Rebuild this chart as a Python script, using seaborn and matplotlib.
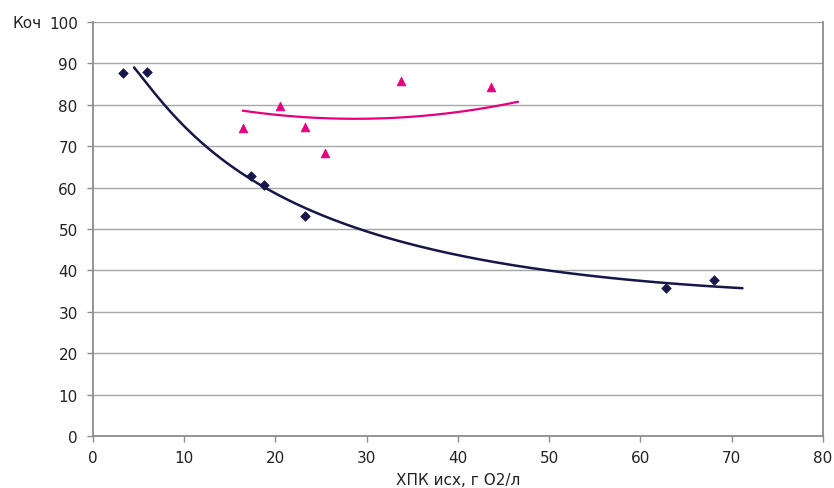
import numpy as np
import pandas as pd
import matplotlib
matplotlib.use("Agg")
import matplotlib.pyplot as plt
import seaborn as sns

x_dark = [3.3, 5.9, 17.3, 18.7, 23.2, 62.8, 68.1]
y_dark = [87.7, 87.9, 62.7, 60.7, 53.1, 35.7, 37.6]
x_pink = [16.4, 20.5, 23.2, 25.4, 33.8, 43.6]
y_pink = [74.4, 79.8, 74.7, 68.3, 85.6, 84.2]

# trend curves as drawn in the picture (read at a few places)
x_dark_trend = [4.5, 12.4, 18.5, 29.8, 35.8, 49.4, 59.2, 64.7, 71.2]
y_dark_trend = [89.0, 70.0, 60.0, 50.0, 46.0, 40.0, 37.0, 36.5, 36.2]
x_pink_trend = [16.4, 22.0, 28.5, 31.5, 38.8, 43.5, 46.6]
y_pink_trend = [78.4, 77.5, 76.6, 76.4, 77.9, 79.6, 80.6]

DARK = "#16164a"
PINK = "#e6007e"
FS = 11

sns.set_theme(style="white")
plt.rcParams["font.family"] = ["DejaVu Sans"]

fig = plt.figure(figsize=(8.34, 4.89), dpi=100)
ax = fig.add_axes([0.1115, 0.1063, 0.875, 0.847])

df_d = pd.DataFrame({"x": x_dark, "y": y_dark})
df_p = pd.DataFrame({"x": x_pink, "y": y_pink})

# smooth the trend curves (dark one in log x, so it flattens out at the end)
cd = np.polyfit(np.log(x_dark_trend), y_dark_trend, 3)
xd = np.linspace(x_dark_trend[0], x_dark_trend[-1], 200)
ax.plot(xd, np.polyval(cd, np.log(xd)), color=DARK, lw=1.8, zorder=3)
cp = np.polyfit(x_pink_trend, y_pink_trend, 2)
xp = np.linspace(x_pink_trend[0], x_pink_trend[-1], 200)
ax.plot(xp, np.polyval(cp, xp), color=PINK, lw=1.6, zorder=3)

sns.scatterplot(data=df_d, x="x", y="y", marker="D", s=24, color=DARK,
                edgecolor=DARK, linewidth=0.5, ax=ax, zorder=4)
sns.scatterplot(data=df_p, x="x", y="y", marker="^", s=40, color=PINK,
                edgecolor=PINK, linewidth=0.5, ax=ax, zorder=4)

ax.set_xlim(0, 80)
ax.set_ylim(0, 100)
ax.set_xticks(range(0, 81, 10))
ax.set_yticks(range(0, 101, 10))
ax.yaxis.grid(True, color="#a6a6a6", lw=1.0)
ax.xaxis.grid(False)
for s in ax.spines.values():
    s.set_color("#8c8c8c")
    s.set_linewidth(1.3)
ax.spines["top"].set_visible(False)
ax.tick_params(axis="both", length=4, width=1, color="#8c8c8c",
               labelsize=FS, labelcolor="#222222", direction="out", bottom=True, left=True)
ax.tick_params(axis="y", pad=7)
ax.tick_params(axis="x", pad=6)
ax.set_xlabel("ХПК исх, г О2/л", fontsize=FS, color="#222222", labelpad=5)
ax.set_ylabel("")
fig.text(12 / 834, 1 - 23 / 489, "Коч", fontsize=FS, color="#222222", ha="left", va="center")

fig.savefig("out.png", dpi=100)
